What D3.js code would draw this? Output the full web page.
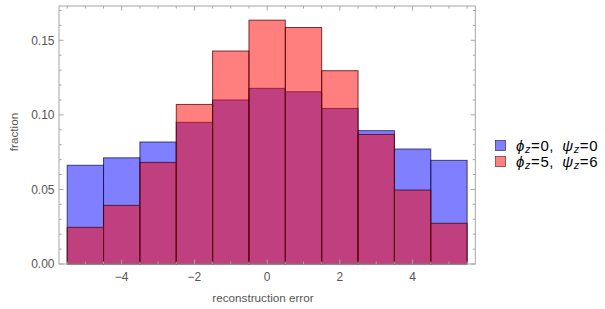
<!DOCTYPE html>
<html>
<head>
<meta charset="utf-8">
<script src="https://cdn.jsdelivr.net/npm/d3@7"></script>
<style>
  html, body { margin: 0; padding: 0; background: #fff; }
  svg { display: block; font-family: "Liberation Sans", Arial, sans-serif; }
</style>
</head>
<body>
<svg id="chart" width="605" height="309"></svg>
<script>
// ---- data ----
const binStarts = [-5.5, -4.5, -3.5, -2.5, -1.5, -0.5, 0.5, 1.5, 2.5, 3.5, 4.5];
const binWidth = 1;
const seriesA = [0.0662, 0.0712, 0.0818, 0.0950, 0.1100, 0.1178, 0.1155, 0.1043, 0.0894, 0.0771, 0.0695]; // phi_z=0, psi_z=0
const seriesB = [0.0246, 0.0393, 0.0681, 0.1070, 0.1428, 0.1635, 0.1586, 0.1296, 0.0869, 0.0496, 0.0273]; // phi_z=5, psi_z=6
const xMajorTicks = [-4, -2, 0, 2, 4];
const yMajorTicks = [0, 0.05, 0.10, 0.15];
const xLabel = "reconstruction error";
const yLabel = "fraction";

const svg = d3.select("#chart");
const pLeft = 59, pRight = 475.3, pTop = 6, pBottom = 264;
const x = d3.scaleLinear().domain([-5.725, 5.725]).range([pLeft, pRight]);
const y = d3.scaleLinear().domain([0, 0.173]).range([pBottom, pTop]);

const series = [
  { values: seriesA, fill: "rgb(0,0,255)", stroke: "rgb(20,20,70)" },
  { values: seriesB, fill: "rgb(255,0,0)", stroke: "rgb(70,0,0)" }
];

series.forEach(s => {
  svg.append("g").selectAll("rect")
    .data(binStarts.map((b, i) => ({ x0: b, x1: b + binWidth, v: s.values[i] })))
    .join("rect")
    .attr("x", d => x(d.x0))
    .attr("width", d => x(d.x1) - x(d.x0))
    .attr("y", d => y(d.v))
    .attr("height", d => y(0) - y(d.v))
    .attr("fill", s.fill)
    .attr("fill-opacity", 0.5)
    .attr("stroke", s.stroke)
    .attr("stroke-opacity", 0.75)
    .attr("stroke-width", 1);
});

// ---- frame and ticks ----
const frameColor = "#a6a6a6";
const textColor = "#555";
svg.append("rect")
  .attr("x", pLeft).attr("y", pTop)
  .attr("width", pRight - pLeft).attr("height", pBottom - pTop)
  .attr("fill", "none").attr("stroke", frameColor).attr("stroke-width", 1);

const xMinor = d3.range(-5.5, 5.51, 0.5).filter(v => !xMajorTicks.includes(v));
const yMinor = d3.range(0.01, 0.1705, 0.01).filter(v => !yMajorTicks.some(t => Math.abs(t - v) < 1e-9));
const majLen = 4.5, minLen = 2.5;
const tg = svg.append("g").attr("stroke", frameColor).attr("stroke-width", 1);

function xTicks(vals, len) {
  vals.forEach(v => {
    tg.append("line").attr("x1", x(v)).attr("x2", x(v)).attr("y1", pBottom).attr("y2", pBottom - len);
    tg.append("line").attr("x1", x(v)).attr("x2", x(v)).attr("y1", pTop).attr("y2", pTop + len);
  });
}
function yTicks(vals, len) {
  vals.forEach(v => {
    tg.append("line").attr("y1", y(v)).attr("y2", y(v)).attr("x1", pLeft).attr("x2", pLeft + len);
    tg.append("line").attr("y1", y(v)).attr("y2", y(v)).attr("x1", pRight).attr("x2", pRight - len);
  });
}
xTicks(xMajorTicks, majLen); xTicks(xMinor, minLen);
yTicks(yMajorTicks, majLen); yTicks(yMinor, minLen);

// tick labels
svg.append("g").selectAll("text").data(xMajorTicks).join("text")
  .attr("x", d => x(d)).attr("y", 280.5)
  .attr("text-anchor", "middle")
  .attr("font-size", 12).attr("fill", textColor)
  .text(d => d < 0 ? "\u2212" + Math.abs(d) : d);

svg.append("g").selectAll("text").data(yMajorTicks).join("text")
  .attr("x", 54.5).attr("y", d => y(d)).attr("dy", "0.35em")
  .attr("text-anchor", "end")
  .attr("font-size", 12).attr("fill", textColor)
  .text(d => d3.format(".2f")(d));

// axis labels
svg.append("text")
  .attr("x", 263).attr("y", 302)
  .attr("text-anchor", "middle")
  .attr("font-size", 11.7).attr("fill", textColor)
  .text(xLabel);
svg.append("text")
  .attr("transform", "translate(18,132) rotate(-90)")
  .attr("text-anchor", "middle")
  .attr("font-size", 11.7).attr("fill", textColor)
  .text(yLabel);

// legend
const legend = [
  { phi: "0", psi: "0", fill: "rgb(128,128,255)", stroke: "rgb(60,60,120)" },
  { phi: "5", psi: "6", fill: "rgb(255,128,128)", stroke: "rgb(120,60,60)" }
];
legend.forEach((l, i) => {
  const cy = 145.5 + i * 16;
  svg.append("rect")
    .attr("x", 495.5).attr("y", cy - 5).attr("width", 10).attr("height", 10)
    .attr("fill", l.fill).attr("stroke", l.stroke).attr("stroke-width", 0.8);
  const t = svg.append("text").attr("x", 516).attr("y", cy).attr("dy", "0.35em")
    .attr("font-size", 15).attr("letter-spacing", 0.6).attr("fill", "#000");
  t.append("tspan").attr("font-style", "italic").text("\u03D5");
  t.append("tspan").attr("font-style", "italic").attr("font-size", 11).attr("dy", 2).text("z");
  t.append("tspan").attr("dy", -2).text("=" + l.phi + ",\u2002");
  t.append("tspan").attr("font-style", "italic").text("\u03C8");
  t.append("tspan").attr("font-style", "italic").attr("font-size", 11).attr("dy", 2).text("z");
  t.append("tspan").attr("dy", -2).text("=" + l.psi);
});
</script>
</body>
</html>
